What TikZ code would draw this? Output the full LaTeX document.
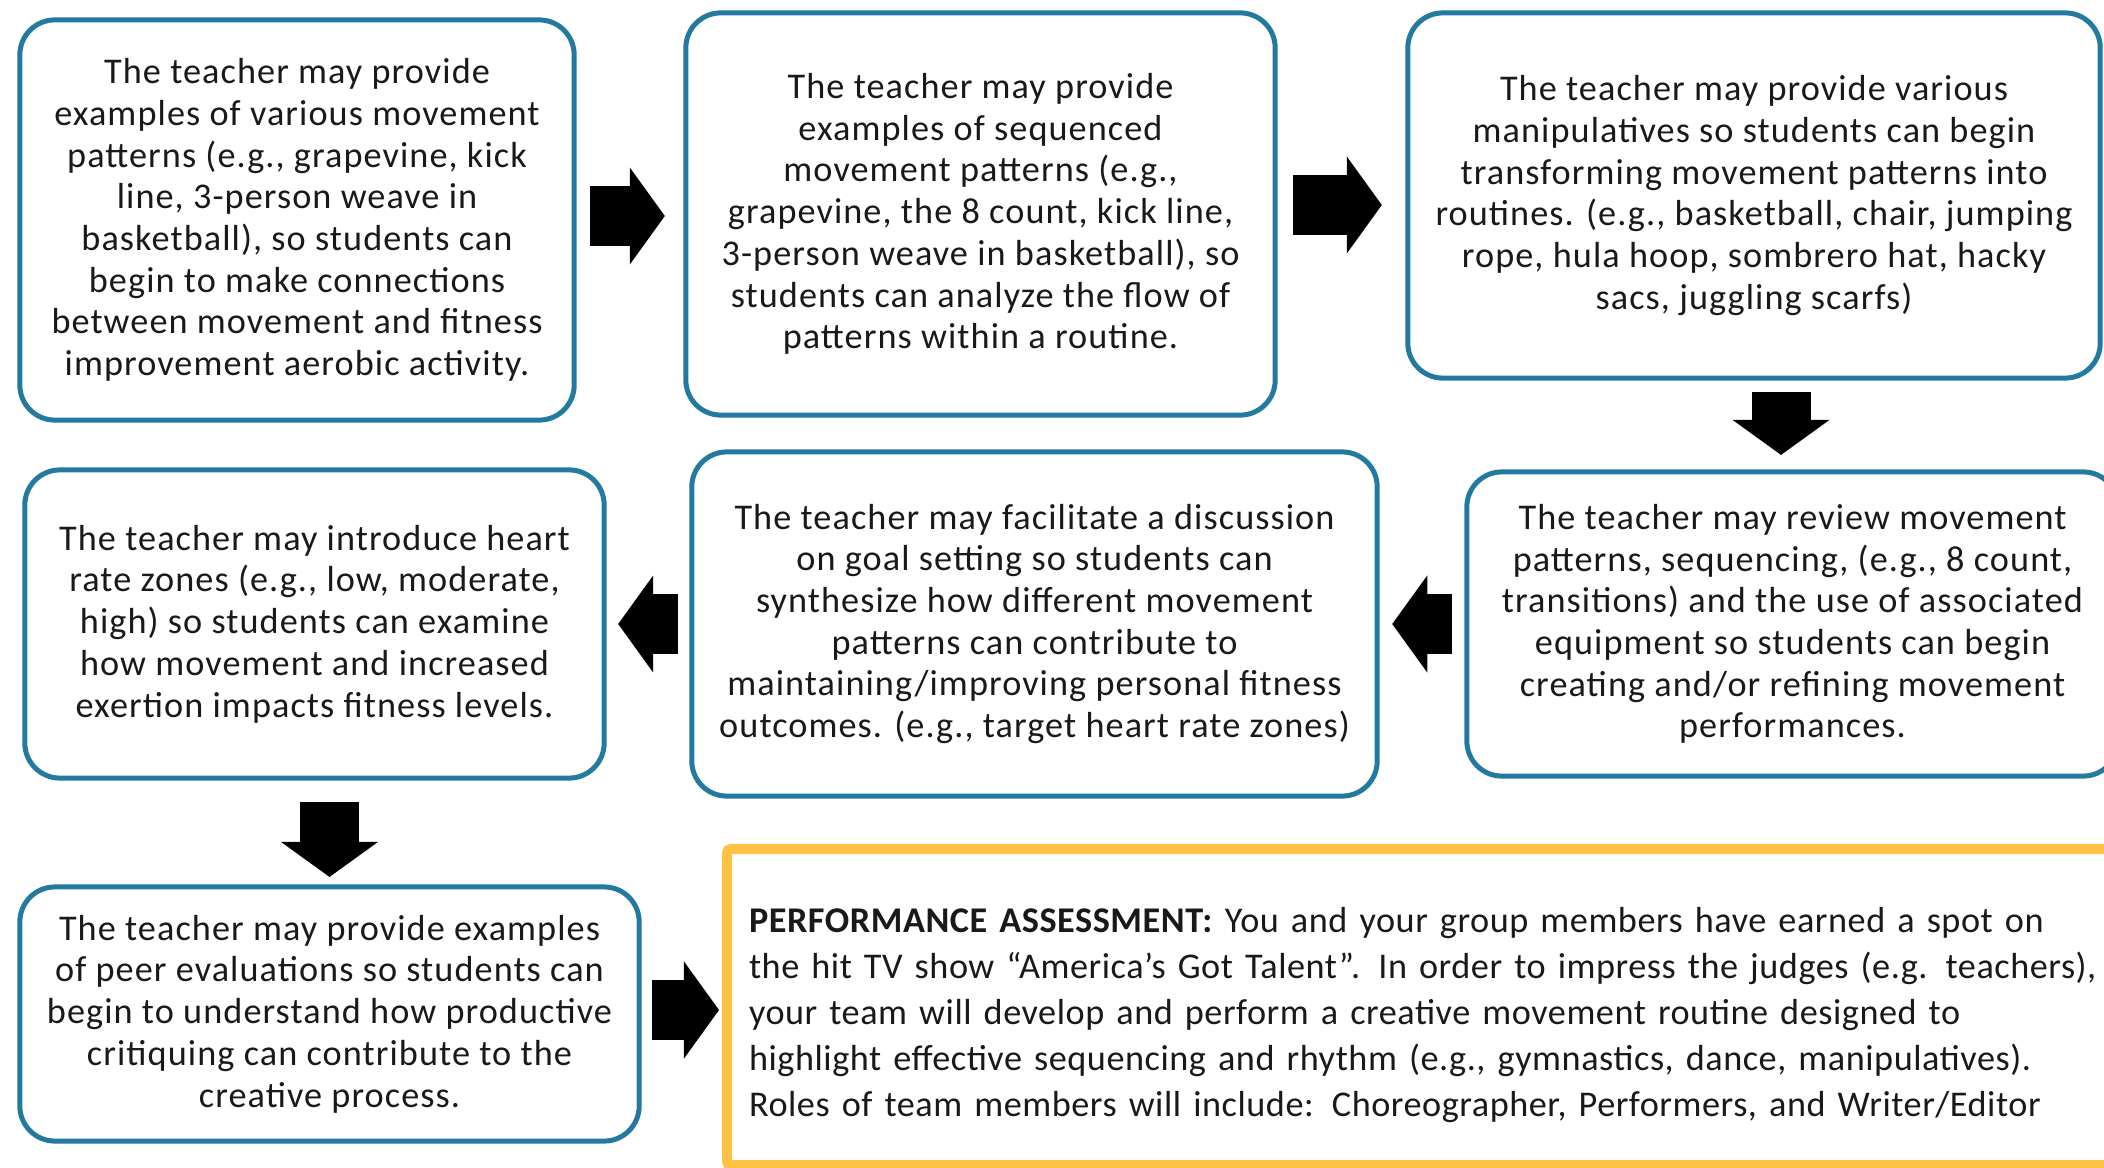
\documentclass[tikz,border=0pt]{standalone}
\usepackage{fontspec}
\setmainfont{Carlito}
\newfontfamily\stepfont[LetterSpace=3]{Carlito}
\newfontfamily\taskfont[LetterSpace=1.5]{Carlito}
\usepackage{xcolor}
\usetikzlibrary{positioning,calc,arrows.meta}
\definecolor{boxblue}{RGB}{36,122,158}
\definecolor{boxgold}{RGB}{255,194,68}
\tikzset{
  stepbox/.style={draw=boxblue, line width=0.05cm, rounded corners=0.35cm, align=center,
    outer sep=0pt, inner sep=0pt, text=black!90, font=\stepfont\fontsize{10.3pt}{11.85pt}\selectfont},
  taskbox/.style={draw=boxgold, line width=0.1cm, rounded corners=0.04cm, align=left,
    outer sep=0pt, inner sep=0pt, text=black!90, font=\taskfont\fontsize{10.3pt}{13.1pt}\selectfont},
  blockarrow/.style={line width=0.59cm, -{Triangle[length=0.35cm, width=0.97cm, line width=0pt]}},
}

\begin{document}
\begin{tikzpicture}[x=0.01cm, y=-0.01cm]
    \useasboundingbox (0,0) rectangle (2104,1167);
    \clip (0,0) rectangle (2104,1167);

    \node [stepbox, minimum width=5.54cm, minimum height=4cm] (intro) at (297,220)
      {The teacher may provide\\ examples of various movement\\ patterns (e.g., grapevine, kick\\ line, 3-person weave in\\ basketball), so students can\\ begin to make connections\\ between movement and fitness\\ improvement aerobic activity.};
    \node [stepbox, minimum width=5.89cm, minimum height=4.02cm] (sequence) at (980.5,214)
      {The teacher may provide\\ examples of sequenced\\ movement patterns (e.g.,\\ grapevine, the 8 count, kick line,\\ 3-person weave in basketball), so\\ students can analyze the flow of\\ patterns within a routine.};
    \node [stepbox, minimum width=6.92cm, minimum height=3.65cm] (manip) at (1754,195.5)
      {The teacher may provide various\\ manipulatives so students can begin\\ transforming movement patterns into\\ routines. (e.g., basketball, chair, jumping\\ rope, hula hoop, sombrero hat, hacky\\ sacs, juggling scarfs)};
    \node [stepbox, minimum width=6.51cm, minimum height=3.04cm] (review) at (1792.5,624)
      {The teacher may review movement\\ patterns, sequencing, (e.g., 8 count,\\ transitions) and the use of associated\\ equipment so students can begin\\ creating and/or refining movement\\ performances.};
    \node [stepbox, minimum width=6.85cm, minimum height=3.44cm] (goals) at (1034.5,624)
      {The teacher may facilitate a discussion\\ on goal setting so students can\\ synthesize how different movement\\ patterns can contribute to\\ maintaining/improving personal fitness\\ outcomes. (e.g., target heart rate zones)};
    \node [stepbox, minimum width=5.79cm, minimum height=3.08cm] (zones) at (314.5,624)
      {The teacher may introduce heart\\ rate zones (e.g., low, moderate,\\ high) so students can examine\\ how movement and increased\\ exertion impacts fitness levels.};
    \node [stepbox, minimum width=6.19cm, minimum height=2.54cm] (peer) at (329.5,1014)
      {The teacher may provide examples\\ of peer evaluations so students can\\ begin to understand how productive\\ critiquing can contribute to the\\ creative process.};
    \node [taskbox, anchor=north west, minimum width=14.2cm, minimum height=3.16cm, text width=13.76cm] (task) at (727,849)
      {\rule{0pt}{11.6pt}\textbf{PERFORMANCE ASSESSMENT:} You and your group members have earned a spot on\\ the hit TV show “America’s Got Talent”. In order to impress the judges (e.g. teachers),\\ your team will develop and perform a creative movement routine designed to\\ highlight effective sequencing and rhythm (e.g., gymnastics, dance, manipulatives).\\ Roles of team members will include: Choreographer, Performers, and Writer/Editor};

    \draw [blockarrow, shorten <=0.16cm, shorten >=0.21cm] ([yshift=0.04cm]intro.east) -- ([yshift=0.04cm]intro.east -| sequence.west);
    \draw [blockarrow, shorten <=0.18cm, shorten >=0.26cm] ([yshift=0.09cm]sequence.east) -- ([yshift=0.09cm]sequence.east -| manip.west);
    \draw [blockarrow, shorten <=0.14cm, shorten >=0.17cm] ([xshift=0.27cm]manip.south) -- ([xshift=0.27cm]manip.south |- review.north);
    \draw [blockarrow, shorten <=0.15cm, shorten >=0.15cm] (review.west) -- (review.west -| goals.east);
    \draw [blockarrow, shorten <=0.14cm, shorten >=0.14cm] (goals.west) -- (goals.west -| zones.east);
    \draw [blockarrow, shorten <=0.24cm, shorten >=0.10cm] (zones.south -| peer.north) -- (peer.north);
    \draw [blockarrow, shorten <=0.13cm, shorten >=0.08cm] ([yshift=0.04cm]peer.east) -- ([yshift=0.04cm]peer.east -| task.west);
\end{tikzpicture}
\end{document}
